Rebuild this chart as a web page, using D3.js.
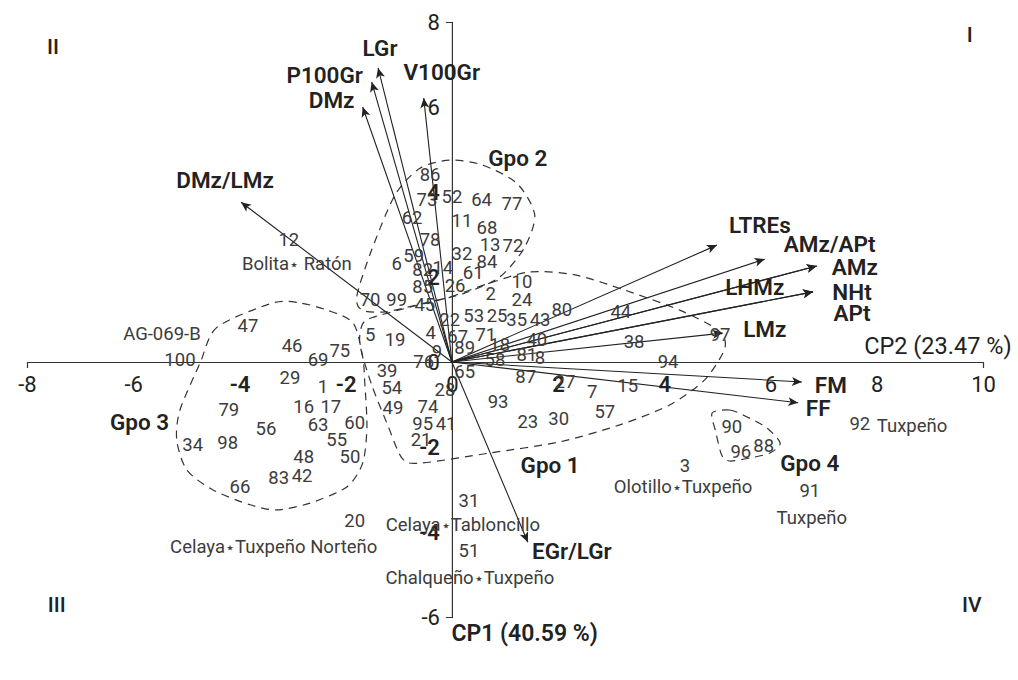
<!DOCTYPE html>
<html>
<head>
<meta charset="utf-8">
<script src="https://cdn.jsdelivr.net/npm/d3@7"></script>
<style>
  body { margin: 0; background: #fff; }
  svg { font-family: Roboto, "Noto Sans", sans-serif; }
</style>
</head>
<body>
<svg id="chart" width="1018" height="680"></svg>
<script>
// axis ticks
const xTicks = [-8, -6, -4, -2, 0, 2, 4, 6, 8, 10];
const yTicks = [-6, -4, -2, 0, 2, 4, 6, 8];

// genotype scores (CP2 on x, CP1 on y)
const genotypes = [
  {id: 86, x: -0.41, y: 4.40}, {id: 73, x: -0.47, y: 3.81}, {id: 52, x: 0.00, y: 3.88},
  {id: 64, x: 0.56, y: 3.81}, {id: 77, x: 1.13, y: 3.72}, {id: 62, x: -0.75, y: 3.39},
  {id: 11, x: 0.19, y: 3.32}, {id: 68, x: 0.66, y: 3.15}, {id: 78, x: -0.41, y: 2.87},
  {id: 13, x: 0.72, y: 2.75}, {id: 72, x: 1.15, y: 2.73}, {id: 32, x: 0.19, y: 2.54},
  {id: 84, x: 0.66, y: 2.35}, {id: 6, x: -1.04, y: 2.31}, {id: 59, x: -0.72, y: 2.49},
  {id: 82, x: -0.55, y: 2.16}, {id: 14, x: -0.17, y: 2.21}, {id: 61, x: 0.40, y: 2.09},
  {id: 26, x: 0.06, y: 1.79}, {id: 85, x: -0.55, y: 1.76}, {id: 10, x: 1.32, y: 1.88},
  {id: 2, x: 0.73, y: 1.60}, {id: 24, x: 1.32, y: 1.46}, {id: 70, x: -1.54, y: 1.46},
  {id: 99, x: -1.04, y: 1.46}, {id: 45, x: -0.51, y: 1.34}, {id: 22, x: -0.04, y: 0.99},
  {id: 53, x: 0.41, y: 1.08}, {id: 25, x: 0.85, y: 1.08}, {id: 35, x: 1.22, y: 0.99},
  {id: 43, x: 1.66, y: 0.99}, {id: 80, x: 2.07, y: 1.22}, {id: 44, x: 3.18, y: 1.18},
  {id: 5, x: -1.54, y: 0.64}, {id: 19, x: -1.07, y: 0.52}, {id: 4, x: -0.40, y: 0.68},
  {id: 67, x: 0.11, y: 0.59}, {id: 71, x: 0.64, y: 0.64}, {id: 18, x: 0.90, y: 0.40},
  {id: 40, x: 1.60, y: 0.52}, {id: 97, x: 5.05, y: 0.64}, {id: 38, x: 3.43, y: 0.47},
  {id: 9, x: -0.28, y: 0.24}, {id: 89, x: 0.24, y: 0.33}, {id: 81, x: 1.41, y: 0.16},
  {id: 76, x: -0.53, y: 0.00}, {id: 65, x: 0.24, y: -0.24}, {id: 58, x: 0.81, y: 0.05},
  {id: 8, x: 1.66, y: 0.09}, {id: 94, x: 4.07, y: 0.00}, {id: 87, x: 1.39, y: -0.35},
  {id: 27, x: 2.13, y: -0.47}, {id: 7, x: 2.64, y: -0.71}, {id: 15, x: 3.31, y: -0.56},
  {id: 57, x: 2.88, y: -1.18}, {id: 93, x: 0.87, y: -0.94}, {id: 23, x: 1.43, y: -1.41},
  {id: 30, x: 2.01, y: -1.34}, {id: 39, x: -1.22, y: -0.21}, {id: 54, x: -1.13, y: -0.61},
  {id: 28, x: -0.13, y: -0.66}, {id: 49, x: -1.11, y: -1.08}, {id: 74, x: -0.45, y: -1.06},
  {id: 95, x: -0.55, y: -1.46}, {id: 41, x: -0.11, y: -1.46}, {id: 21, x: -0.58, y: -1.84},
  {id: 60, x: -1.83, y: -1.44}, {id: 50, x: -1.92, y: -2.24}, {id: 55, x: -2.17, y: -1.84},
  {id: 63, x: -2.52, y: -1.48}, {id: 16, x: -2.79, y: -1.06}, {id: 17, x: -2.28, y: -1.06},
  {id: 1, x: -2.43, y: -0.59}, {id: 29, x: -3.05, y: -0.38}, {id: 69, x: -2.52, y: 0.05},
  {id: 46, x: -3.01, y: 0.38}, {id: 75, x: -2.11, y: 0.26}, {id: 47, x: -3.84, y: 0.85},
  {id: 100, x: -5.12, y: 0.05}, {id: 79, x: -4.20, y: -1.13}, {id: 56, x: -3.50, y: -1.58},
  {id: 34, x: -4.88, y: -1.95}, {id: 98, x: -4.22, y: -1.91}, {id: 48, x: -2.79, y: -2.24},
  {id: 83, x: -3.26, y: -2.73}, {id: 42, x: -2.82, y: -2.68}, {id: 66, x: -3.99, y: -2.94},
  {id: 20, x: -1.83, y: -3.74}, {id: 31, x: 0.32, y: -3.27}, {id: 51, x: 0.32, y: -4.45},
  {id: 3, x: 4.39, y: -2.45}, {id: 90, x: 5.27, y: -1.53}, {id: 96, x: 5.44, y: -2.12},
  {id: 88, x: 5.87, y: -1.98}, {id: 91, x: 6.74, y: -3.04}, {id: 92, x: 7.68, y: -1.46},
  {id: 12, x: -3.07, y: 2.87}
];

// variable loadings (arrow tips)
const variables = [
  {name: "LGr", x: -1.39, y: 6.92},
  {name: "P100Gr", x: -1.51, y: 6.59},
  {name: "DMz", x: -1.68, y: 6.00},
  {name: "V100Gr", x: -0.53, y: 6.21},
  {name: "DMz/LMz", x: -3.97, y: 3.76},
  {name: "LTREs", x: 4.99, y: 2.75},
  {name: "AMz/APt", x: 5.89, y: 2.42},
  {name: "AMz", x: 6.87, y: 2.26},
  {name: "LHMz", x: 6.87, y: 2.26},
  {name: "NHt", x: 6.80, y: 1.65},
  {name: "APt", x: 6.80, y: 1.65},
  {name: "LMz", x: 5.10, y: 0.68},
  {name: "FM", x: 6.59, y: -0.47},
  {name: "FF", x: 6.52, y: -0.96},
  {name: "EGr/LGr", x: 1.43, y: -4.24}
];

// race names written under some genotypes, [before star, after star]
const raceNames = [
  {id: 12, text: ["Bolita", " Ratón"]},
  {id: 100, text: ["AG-069-B"]},
  {id: 20, text: ["Celaya", "Tuxpeño Norteño"]},
  {id: 31, text: ["Celaya", "Tabloncillo"]},
  {id: 51, text: ["Chalqueño", "Tuxpeño"]},
  {id: 3, text: ["Olotillo", "Tuxpeño"]},
  {id: 91, text: ["Tuxpeño"]},
  {id: 92, text: ["Tuxpeño"]}
];

// dashed group outlines
const gpo1 = [[-1.51,1.04],[-0.79,1.29],[-0.04,1.53],[0.72,1.86],[1.47,2.12],[2.32,2.05],[3.26,1.69],
  [4.29,1.22],[5.01,0.75],[5.14,0.33],[4.76,-0.42],[4.10,-1.01],[3.16,-1.48],[2.03,-1.88],[0.72,-2.14],
  [-0.60,-2.38],[-0.94,-2.26],[-1.21,-1.48],[-1.51,-0.54],[-1.73,0.40],[-1.69,0.87]];
const gpo2 = [[-1.69,1.22],[-1.79,1.55],[-1.51,2.64],[-1.07,3.93],[-0.60,4.56],[-0.04,4.75],[0.56,4.64],
  [1.22,4.21],[1.56,3.46],[1.36,2.68],[0.90,2.00],[0.24,1.62],[-0.60,1.36],[-1.26,1.18]];
const gpo3 = [[-3.37,1.39],[-4.42,0.82],[-4.74,-0.02],[-5.12,-1.13],[-5.18,-1.84],[-4.99,-2.54],[-4.50,-3.01],
  [-3.80,-3.36],[-3.30,-3.48],[-2.67,-3.32],[-1.98,-2.94],[-1.68,-2.38],[-1.60,-1.53],[-1.64,-0.49],
  [-1.68,0.12],[-1.86,0.92],[-2.35,1.22],[-2.86,1.39]];
const gpo4 = [[4.90,-1.20],[5.23,-1.13],[5.52,-1.27],[5.93,-1.55],[6.18,-1.91],[5.99,-2.14],[5.61,-2.26],
  [5.23,-2.33],[5.08,-2.19],[4.97,-1.65]];

const groupLabels = [
  {name: "Gpo 1", x: 1.85, y: -2.42},
  {name: "Gpo 2", x: 1.24, y: 4.80},
  {name: "Gpo 3", x: -5.88, y: -1.41},
  {name: "Gpo 4", x: 6.74, y: -2.38}
];

const quadrants = [
  {name: "I", x: 9.75, y: 7.69},
  {name: "II", x: -7.51, y: 7.41},
  {name: "III", x: -7.44, y: -5.72},
  {name: "IV", x: 9.79, y: -5.72}
];

// label placement, px from arrow tip
const varLabelOffset = {
  "LGr": [2, -20], "P100Gr": [-47, -7], "DMz": [-31, -7], "V100Gr": [18, -26],
  "DMz/LMz": [-16, -22], "LTREs": [43, -20], "AMz/APt": [65, -15], "AMz": [38, 1],
  "LHMz": [-62, 21], "NHt": [39, 0], "APt": [39, 21], "LMz": [42, -4],
  "FM": [29, 3], "FF": [20, 5], "EGr/LGr": [44, 9]
};
const raceOffset = {
  12: [8, 24, "middle"], 100: [-18, -26, "middle"], 20: [-81, 26, "middle"], 31: [-6, 24, "middle"],
  51: [1, 27, "middle"], 3: [-2, 21, "middle"], 91: [2, 27, "middle"], 92: [17, 2, "start"]
};

const svg = d3.select("#chart");

const x = d3.scaleLinear().domain([-8, 10]).range([27, 983]);
const y = d3.scaleLinear().domain([-6, 8]).range([617, 22]);

svg.append("defs").append("marker")
    .attr("id", "arrow")
    .attr("viewBox", "0 -5 10 10")
    .attr("refX", 10)
    .attr("refY", 0)
    .attr("markerUnits", "userSpaceOnUse")
    .attr("markerWidth", 11)
    .attr("markerHeight", 10)
    .attr("orient", "auto")
  .append("path")
    .attr("d", "M0,-4.5L10,0L0,4.5L2.5,0Z")
    .attr("fill", "#222");

// group outlines
const outline = d3.line()
    .x(d => x(d[0]))
    .y(d => y(d[1]))
    .curve(d3.curveCardinalClosed.tension(0.2));

svg.append("g")
  .selectAll("path")
  .data([gpo1, gpo2, gpo3, gpo4])
  .join("path")
    .attr("d", outline)
    .attr("fill", "none")
    .attr("stroke", "#333")
    .attr("stroke-width", 1.2)
    .attr("stroke-dasharray", "8,6");

// axes
const xAxis = d3.axisBottom(x)
    .tickValues(xTicks)
    .tickSize(0)
    .tickSizeOuter(6)
    .tickPadding(14)
    .tickFormat(d => String(d));
const yAxis = d3.axisLeft(y)
    .tickValues(yTicks)
    .tickSize(0)
    .tickSizeOuter(6)
    .tickPadding(12)
    .tickFormat(d => String(d));

const gx = svg.append("g")
    .attr("transform", `translate(0,${y(0)})`)
    .call(xAxis);
const gy = svg.append("g")
    .attr("transform", `translate(${x(0)},0)`)
    .call(yAxis);

[gx, gy].forEach(g => {
  g.select(".domain").attr("stroke", "#333").attr("stroke-width", 1.2);
  g.selectAll(".tick text")
    .attr("fill", "#222")
    .style("font-size", "22px")
    .style("font-family", "Roboto, sans-serif")
    .style("font-weight", d => (Math.abs(d) === 2 || Math.abs(d) === 4) ? 600 : 400);
});

// arrows
svg.append("g")
  .selectAll("line")
  .data(variables)
  .join("line")
    .attr("x1", x(0))
    .attr("y1", y(0))
    .attr("x2", d => x(d.x))
    .attr("y2", d => y(d.y))
    .attr("stroke", "#222")
    .attr("stroke-width", 1.1)
    .attr("marker-end", "url(#arrow)");

// genotype numbers
svg.append("g")
  .selectAll("text")
  .data(genotypes)
  .join("text")
    .attr("x", d => x(d.x))
    .attr("y", d => y(d.y))
    .attr("text-anchor", "middle")
    .attr("dominant-baseline", "central")
    .attr("fill", "#3c3c3c")
    .style("font-size", "18.5px")
    .text(d => d.id);

// race names
const byId = new Map(genotypes.map(d => [d.id, d]));
const race = svg.append("g")
  .selectAll("text")
  .data(raceNames)
  .join("text")
    .attr("x", d => x(byId.get(d.id).x) + raceOffset[d.id][0])
    .attr("y", d => y(byId.get(d.id).y) + raceOffset[d.id][1])
    .attr("text-anchor", d => raceOffset[d.id][2])
    .attr("dominant-baseline", "central")
    .attr("fill", "#3c3c3c")
    .style("font-size", "18.5px");

race.each(function(d) {
  const t = d3.select(this);
  d.text.forEach((part, i) => {
    if (i > 0) t.append("tspan").style("font-size", "16px").text("⋆");
    t.append("tspan").text(part);
  });
});

// variable labels
svg.append("g")
  .selectAll("text")
  .data(variables)
  .join("text")
    .attr("x", d => x(d.x) + varLabelOffset[d.name][0])
    .attr("y", d => y(d.y) + varLabelOffset[d.name][1])
    .attr("text-anchor", "middle")
    .attr("dominant-baseline", "central")
    .attr("fill", "#222")
    .style("font-size", "22.5px")
    .style("font-weight", 600)
    .text(d => d.name);

// group labels
svg.append("g")
  .selectAll("text")
  .data(groupLabels)
  .join("text")
    .attr("x", d => x(d.x))
    .attr("y", d => y(d.y))
    .attr("text-anchor", "middle")
    .attr("dominant-baseline", "central")
    .attr("fill", "#222")
    .style("font-size", "22.5px")
    .style("font-weight", 600)
    .text(d => d.name);

// quadrant numerals
svg.append("g")
  .selectAll("text")
  .data(quadrants)
  .join("text")
    .attr("x", d => x(d.x))
    .attr("y", d => y(d.y))
    .attr("text-anchor", "middle")
    .attr("dominant-baseline", "central")
    .attr("fill", "#222")
    .style("font-size", "21px")
    .style("font-weight", 500)
    .text(d => d.name);

// axis titles
svg.append("text")
    .attr("x", x(9.15))
    .attr("y", y(0.38))
    .attr("text-anchor", "middle")
    .attr("dominant-baseline", "central")
    .attr("fill", "#222")
    .style("font-size", "23.5px")
    .text("CP2 (23.47 %)");

svg.append("text")
    .attr("x", x(1.37))
    .attr("y", y(-6.38))
    .attr("text-anchor", "middle")
    .attr("dominant-baseline", "central")
    .attr("fill", "#222")
    .style("font-size", "23px")
    .style("font-weight", 600)
    .text("CP1 (40.59 %)");
</script>
</body>
</html>
